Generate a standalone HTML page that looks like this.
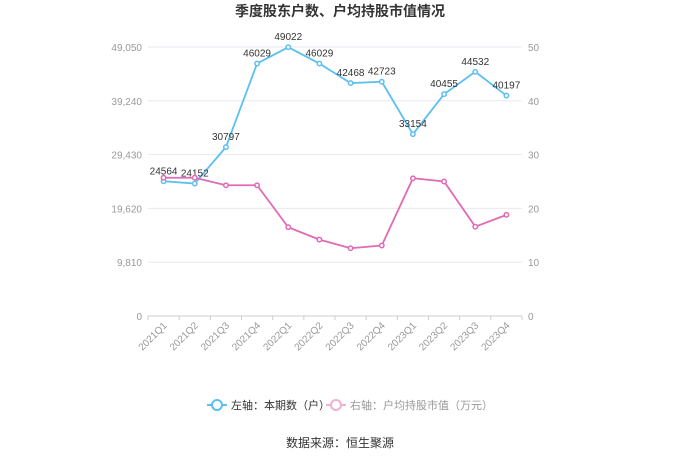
<!DOCTYPE html>
<html><head><meta charset="utf-8"><style>
body{margin:0;background:#fff;}
svg{display:block;font-family:"Liberation Sans","Noto Sans CJK SC",sans-serif;}
</style></head><body>
<svg id="c" width="680" height="460">
<text x="340" y="16" text-anchor="middle" font-size="14" font-weight="bold" fill="#333">季度股东户数、户均持股市值情况</text>
<g id="grid"></g><g id="axes"></g><g id="series"></g>
<g>
<g><line x1="207" y1="405" x2="227" y2="405" stroke="#5bc0f0" stroke-width="2"/><circle cx="217" cy="405" r="5" fill="#fff" stroke="#5bc0f0" stroke-width="2"/><text x="231" y="409" font-size="11" fill="#333">左轴：本期数（户）</text></g>
<g><line x1="326" y1="405" x2="346" y2="405" stroke="#f0b0d8" stroke-width="2"/><circle cx="336" cy="405" r="5" fill="#fff" stroke="#f0b0d8" stroke-width="2"/><text x="350" y="409" font-size="11" fill="#999">右轴：户均持股市值（万元）</text></g>
</g>
<text x="340" y="447" text-anchor="middle" font-size="12" fill="#333">数据来源：恒生聚源</text>
</svg>
<script>
const categories=["2021Q1","2021Q2","2021Q3","2021Q4","2022Q1","2022Q2","2022Q3","2022Q4","2023Q1","2023Q2","2023Q3","2023Q4"];
const holders=[24564,24152,30797,46029,49022,46029,42468,42723,33154,40455,44532,40197];
const avgValue=[25.7,25.7,24.3,24.3,16.5,14.2,12.6,13.1,25.6,25.0,16.6,18.8];
const leftTicks=[0,9810,19620,29430,39240,49050];
const rightTicks=[0,10,20,30,40,50];
const NS="http://www.w3.org/2000/svg";
const X0=148,X1=522,Y0=316,Y1=47;
const step=(X1-X0)/categories.length;
const xs=i=>X0+step*(i+0.5);
const yL=v=>Y0-(v/49050)*(Y0-Y1);
const yR=v=>Y0-(v/50)*(Y0-Y1);
function mk(tag,attrs,parent,txt){const e=document.createElementNS(NS,tag);for(const k in attrs)e.setAttribute(k,attrs[k]);if(txt!=null)e.textContent=txt;parent.appendChild(e);return e;}
const grid=document.getElementById('grid'),axes=document.getElementById('axes'),series=document.getElementById('series');
leftTicks.forEach((t,i)=>{const y=yL(t);
 if(i>0){const g=mk('line',{x1:X0,x2:X1,y1:y,y2:y,stroke:'#e8e8f0'},grid);
 
 }
 const l=mk('text',{x:X0-6,y:y+4,'text-anchor':'end','font-size':10,fill:'#999'},axes,t.toLocaleString('en-US'));
 
 });
rightTicks.forEach(t=>{const y=yR(t);
 const l=mk('text',{x:X1+6,y:y+4,'font-size':10,fill:'#999'},axes,String(t));
 
 });
const ax=mk('line',{x1:X0,x2:X1,y1:Y0,y2:Y0,stroke:'#ccc'},axes);


for(let i=0;i<=categories.length;i++){const x=X0+step*i;mk('line',{x1:x,x2:x,y1:Y0,y2:Y0+4,stroke:'#ccc'},axes);}
categories.forEach((c,i)=>{const x=xs(i)+4,y=Y0+10;
 const l=mk('text',{x:x,y:y,'text-anchor':'end','font-size':10,fill:'#999',transform:`rotate(-45 ${x} ${y})`},axes,c);
 
 });
function drawSeries(vals,yf,color,name,labels){
 const p=mk('polyline',{points:vals.map((v,i)=>xs(i)+','+yf(v)).join(' '),fill:'none',stroke:color,'stroke-width':1.8},series);
 
 
 vals.forEach((v,i)=>{const c=mk('circle',{cx:xs(i),cy:yf(v),r:2.2,fill:'#fff',stroke:color,'stroke-width':1.5},series);
  
  
  if(labels){const t=mk('text',{x:xs(i),y:yf(v)-7,'text-anchor':'middle','font-size':10,fill:'#333'},series,String(v));
   
   }});
}
drawSeries(holders,yL,'#5bc0f0','holders',true);
drawSeries(avgValue,yR,'#e06bb4','avg-value',false);
</script>
</body></html>
